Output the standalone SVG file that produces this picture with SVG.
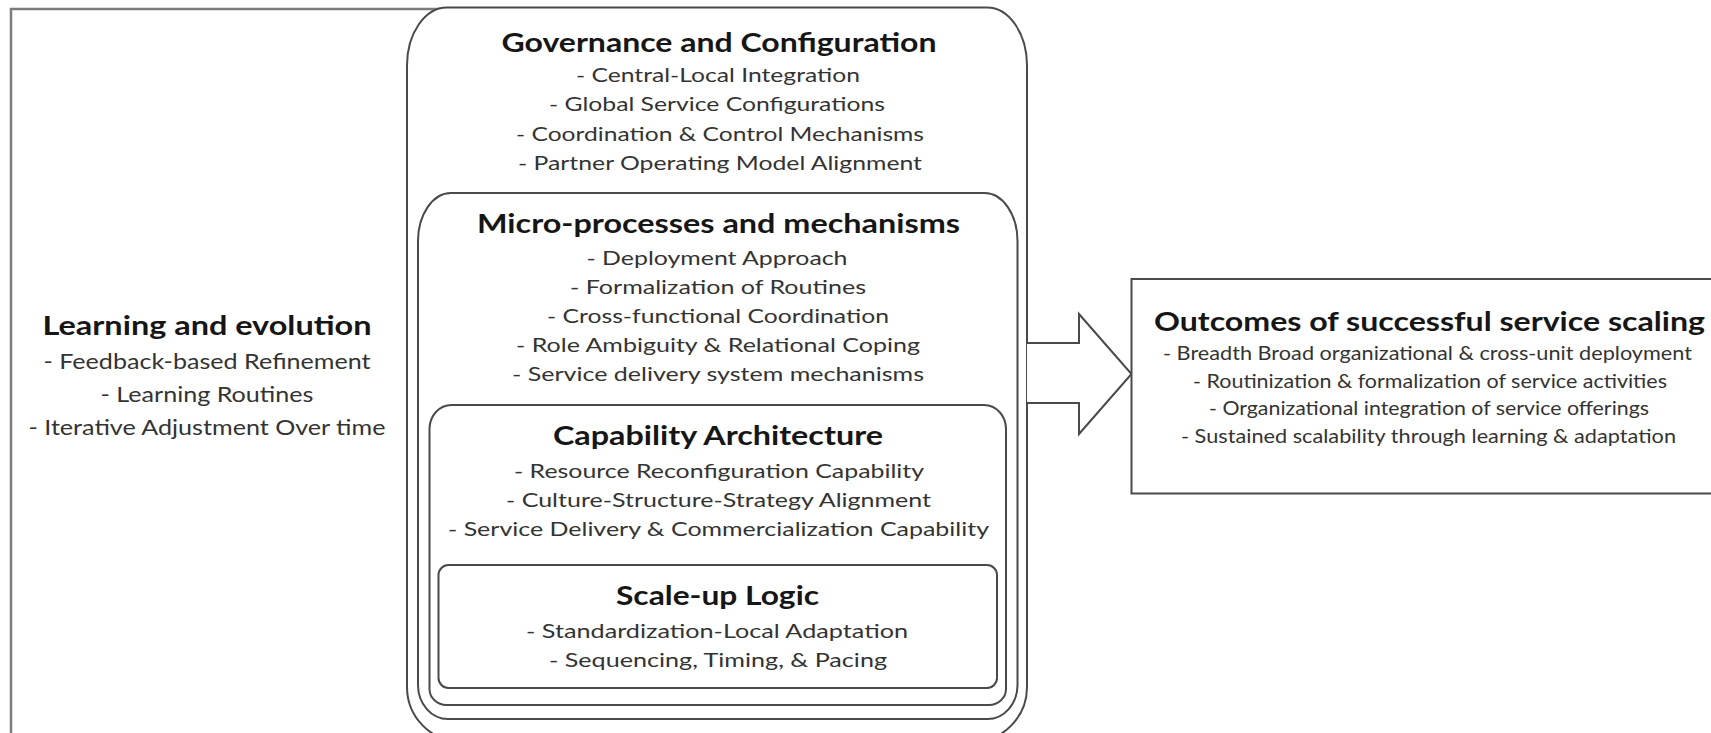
<svg xmlns="http://www.w3.org/2000/svg" width="1711" height="733" viewBox="0 0 1711 733">
  <style>
    .frame { fill: #ffffff; stroke: #4a4a4a; stroke-width: 2; }
    .outer { fill: #ffffff; stroke: #7c7c7c; stroke-width: 2.5; }
    .head { font-family: Lato, "Liberation Sans", sans-serif; font-weight: 700; font-size: 27px; fill: #161616; text-anchor: middle; }
    .item { font-family: Lato, "Liberation Sans", sans-serif; font-size: 20px; fill: #333333; text-anchor: middle; }
    .item-l { font-family: Lato, "Liberation Sans", sans-serif; font-size: 21px; fill: #333333; text-anchor: middle; }
    .item-s { font-family: Lato, "Liberation Sans", sans-serif; font-size: 19px; fill: #333333; text-anchor: middle; }
    .arrow { fill: #ffffff; stroke: #4a4a4a; stroke-width: 2; stroke-linejoin: miter; }
  </style>

  <rect width="1711" height="733" fill="#ffffff"/>

  <!-- Learning and evolution: wide frame behind the nested stack -->
  <g id="learning-evolution">
    <rect class="outer" x="11" y="9" width="460" height="740"/>
    <text class="head" x="207" y="335" textLength="329" lengthAdjust="spacingAndGlyphs">Learning and evolution</text>
    <text class="item-l" x="207" y="369" textLength="327" lengthAdjust="spacingAndGlyphs">- Feedback-based Refinement</text>
    <text class="item-l" x="207" y="402" textLength="213" lengthAdjust="spacingAndGlyphs">- Learning Routines</text>
    <text class="item-l" x="207" y="435" textLength="357" lengthAdjust="spacingAndGlyphs">- Iterative Adjustment Over time</text>
  </g>

  <!-- Governance and Configuration: outermost rounded container -->
  <g id="governance-configuration">
    <path class="frame" d="M447,7.5 H987 A40 58 0 0 1 1027,65.5 V687 A55 55 0 0 1 972,742 H462 A55 55 0 0 1 407,687 V65.5 A40 58 0 0 1 447,7.5 Z"/>
    <text class="head" x="719" y="52" textLength="435" lengthAdjust="spacingAndGlyphs">Governance and Configuration</text>
    <text class="item" x="718" y="82" textLength="284" lengthAdjust="spacingAndGlyphs">- Central-Local Integration</text>
    <text class="item" x="717" y="111" textLength="336" lengthAdjust="spacingAndGlyphs">- Global Service Configurations</text>
    <text class="item" x="720" y="141" textLength="408" lengthAdjust="spacingAndGlyphs">- Coordination &amp; Control Mechanisms</text>
    <text class="item" x="720" y="170" textLength="404" lengthAdjust="spacingAndGlyphs">- Partner Operating Model Alignment</text>
  </g>

  <!-- Micro-processes and mechanisms -->
  <g id="micro-processes">
    <path class="frame" d="M451,193 H984.5 A33 48 0 0 1 1017.5,241 V685 A30 34 0 0 1 987.5,719 H448 A30 34 0 0 1 418,685 V241 A33 48 0 0 1 451,193 Z"/>
    <text class="head" x="718.5" y="233" textLength="483" lengthAdjust="spacingAndGlyphs">Micro-processes and mechanisms</text>
    <text class="item" x="717" y="265" textLength="261" lengthAdjust="spacingAndGlyphs">- Deployment Approach</text>
    <text class="item" x="718" y="294" textLength="296" lengthAdjust="spacingAndGlyphs">- Formalization of Routines</text>
    <text class="item" x="718" y="323" textLength="342" lengthAdjust="spacingAndGlyphs">- Cross-functional Coordination</text>
    <text class="item" x="718" y="352" textLength="404" lengthAdjust="spacingAndGlyphs">- Role Ambiguity &amp; Relational Coping</text>
    <text class="item" x="718" y="381" textLength="412" lengthAdjust="spacingAndGlyphs">- Service delivery system mechanisms</text>
  </g>

  <!-- Capability Architecture -->
  <g id="capability-architecture">
    <path class="frame" d="M451.5,405 H984 A22 24 0 0 1 1006,429 V689 A17 16 0 0 1 989,705 H446.5 A17 16 0 0 1 429.5,689 V429 A22 24 0 0 1 451.5,405 Z"/>
    <text class="head" x="718" y="445" textLength="330" lengthAdjust="spacingAndGlyphs">Capability Architecture</text>
    <text class="item" x="719" y="478" textLength="410" lengthAdjust="spacingAndGlyphs">- Resource Reconfiguration Capability</text>
    <text class="item" x="718.5" y="507" textLength="425" lengthAdjust="spacingAndGlyphs">- Culture-Structure-Strategy Alignment</text>
    <text class="item" x="718.5" y="536" textLength="541" lengthAdjust="spacingAndGlyphs">- Service Delivery &amp; Commercialization Capability</text>
  </g>

  <!-- Scale-up Logic: innermost box -->
  <g id="scale-up-logic">
    <rect class="frame" x="438.5" y="565" width="558.5" height="123" rx="10" ry="10"/>
    <text class="head" x="717.5" y="605" textLength="203" lengthAdjust="spacingAndGlyphs">Scale-up Logic</text>
    <text class="item" x="717" y="638" textLength="382" lengthAdjust="spacingAndGlyphs">- Standardization-Local Adaptation</text>
    <text class="item" x="718" y="667" textLength="338" lengthAdjust="spacingAndGlyphs">- Sequencing, Timing, &amp; Pacing</text>
  </g>

  <!-- Block arrow from the stack to the outcomes -->
  <g id="connectors">
    <polyline class="arrow" points="1027,343 1079,343 1079,314 1131.5,374 1079,434 1079,403 1027,403"/>
  </g>

  <!-- Outcomes of successful service scaling (runs past the right edge) -->
  <g id="outcomes">
    <rect class="frame" x="1131.5" y="279" width="620" height="214.5"/>
    <text class="head" x="1429.5" y="331" textLength="551" lengthAdjust="spacingAndGlyphs">Outcomes of successful service scaling</text>
    <text class="item-s" x="1427.5" y="360" textLength="529" lengthAdjust="spacingAndGlyphs">- Breadth Broad organizational &amp; cross-unit deployment</text>
    <text class="item-s" x="1430" y="388" textLength="474" lengthAdjust="spacingAndGlyphs">- Routinization &amp; formalization of service activities</text>
    <text class="item-s" x="1429" y="415" textLength="440" lengthAdjust="spacingAndGlyphs">- Organizational integration of service offerings</text>
    <text class="item-s" x="1428.5" y="443" textLength="495" lengthAdjust="spacingAndGlyphs">- Sustained scalability through learning &amp; adaptation</text>
  </g>
</svg>
